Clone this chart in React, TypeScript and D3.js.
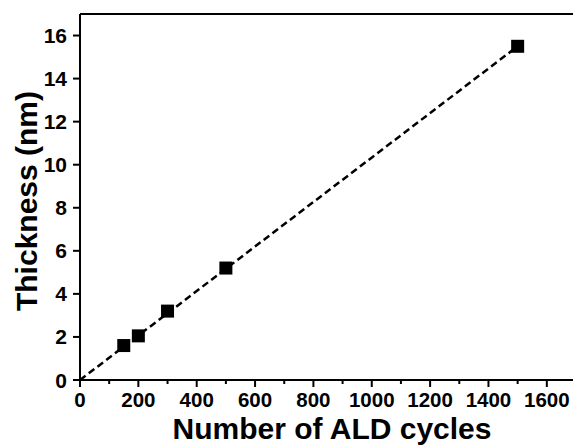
import React from "react";
import * as d3 from "d3";

const cycles = [150, 200, 300, 500, 1500];
const thickness = [1.6, 2.05, 3.2, 5.2, 15.5];
const fitCycles = [0, 1500];
const fitThickness = [0, 15.5];
const xTicks = [0, 200, 400, 600, 800, 1000, 1200, 1400, 1600];
const xMinorTicks = [100, 300, 500, 700, 900, 1100, 1300, 1500, 1700];
const yTicks = [0, 2, 4, 6, 8, 10, 12, 14, 16];

const W = 573;
const H = 445;
const FONT = "'Liberation Sans', Arial, sans-serif";

export default function App() {
  const x = d3.scaleLinear().domain([0, 1700]).range([80, 576]);
  const y = d3.scaleLinear().domain([0, 17]).range([380, 14]);
  const fitPts: [number, number][] = fitCycles.map((c, i) => [c, fitThickness[i]]);
  const line = d3
    .line<[number, number]>()
    .x((d) => x(d[0]))
    .y((d) => y(d[1]));
  const sq = 13;
  return (
    <svg
      width={W}
      height={H}
      style={{ position: "absolute", left: 0, top: 0, display: "block" }}
      fontFamily={FONT}
    >
      <rect x={0} y={0} width={W} height={H} fill="#fff" />
      {/* frame */}
      <line x1={x(0)} x2={x(1700)} y1={y(17)} y2={y(17)} stroke="#000" strokeWidth={2} />
      <line x1={x(1700)} x2={x(1700)} y1={y(17)} y2={y(0)} stroke="#000" strokeWidth={2} />
      <line x1={x(0)} x2={x(1700)} y1={y(0)} y2={y(0)} stroke="#000" strokeWidth={2} />
      <line x1={x(0)} x2={x(0)} y1={y(17)} y2={y(0)} stroke="#000" strokeWidth={2} />
      {/* x ticks */}
      {xTicks.map((t) => (
        <g key={"xt" + t}>
          <line x1={x(t)} x2={x(t)} y1={y(0)} y2={y(0) + 7} stroke="#000" strokeWidth={2} />
          <text x={x(t)} y={406.5} textAnchor="middle" fontSize={20.5} fontWeight="bold">
            {t}
          </text>
        </g>
      ))}
      {xMinorTicks.map((t) => (
        <line key={"xm" + t} x1={x(t)} x2={x(t)} y1={y(0)} y2={y(0) + 4} stroke="#000" strokeWidth={2} />
      ))}
      {/* y ticks */}
      {yTicks.map((t) => (
        <g key={"yt" + t}>
          <line x1={x(0) - 7} x2={x(0)} y1={y(t)} y2={y(t)} stroke="#000" strokeWidth={2} />
          <text x={67} y={y(t) + 7.5} textAnchor="end" fontSize={21} fontWeight="bold">
            {t}
          </text>
        </g>
      ))}
      {/* fit line */}
      <path
        d={line(fitPts) || ""}
        fill="none"
        stroke="#000"
        strokeWidth={2.5}
        strokeDasharray="7,4"
      />
      {/* points */}
      {cycles.map((c, i) => (
        <rect
          key={"p" + i}
          x={x(c) - sq / 2}
          y={y(thickness[i]) - sq / 2}
          width={sq}
          height={sq}
          fill="#000"
        />
      ))}
      {/* axis titles */}
      <text x={332} y={438.5} textAnchor="middle" fontSize={30} fontWeight="bold">
        Number of ALD cycles
      </text>
      <text
        transform={`translate(37, 201) rotate(-90)`}
        textAnchor="middle"
        fontSize={30}
        fontWeight="bold"
      >
        Thickness (nm)
      </text>
    </svg>
  );
}
